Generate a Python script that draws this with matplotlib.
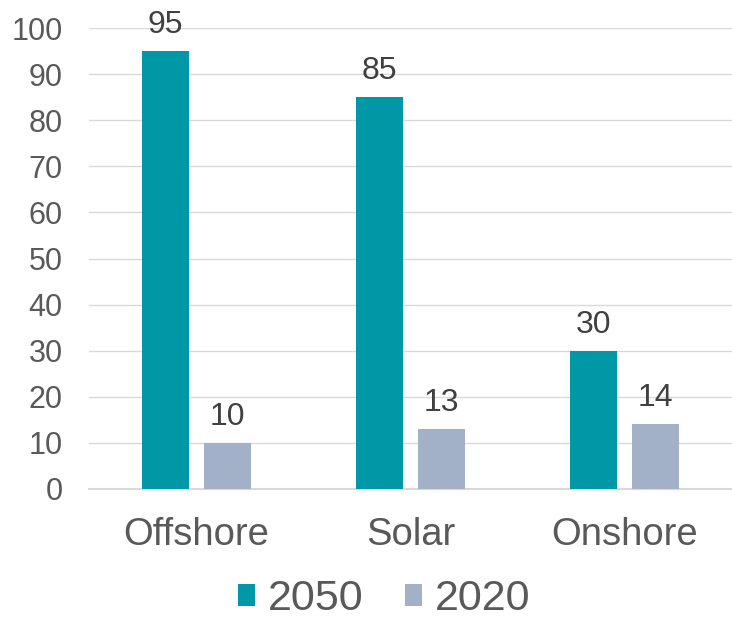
import numpy as np
import matplotlib.pyplot as plt

categories = ['Offshore', 'Solar', 'Onshore']
values_2050 = [95, 85, 30]
values_2020 = [10, 13, 14]
series_labels = ['2050', '2020']

color_2050 = '#0097A7'
color_2020 = '#A2B1C7'
text_col = '#595959'

plt.rcParams['font.family'] = ['Liberation Sans', 'DejaVu Sans']

fig = plt.figure(figsize=(7.32, 6.18), dpi=100)
ax = fig.add_axes([89 / 732, 1 - 489 / 618, 1 - 89 / 732, (489 - 28) / 618])

x = np.arange(len(categories))
w = 0.219
off = 0.145
b1 = ax.bar(x - off, values_2050, w, color=color_2050, label=series_labels[0], zorder=3)
b2 = ax.bar(x + off, values_2020, w, color=color_2020, label=series_labels[1], zorder=3)

for bars in (b1, b2):
    for rect in bars:
        h = rect.get_height()
        ax.annotate(f'{h:g}', (rect.get_x() + rect.get_width() / 2, h),
                    xytext=(0, 8), textcoords='offset points',
                    ha='center', va='bottom', fontsize=23, color='#404040',
                    clip_on=False)

ax.set_xlim(-0.5, 2.5)
ax.set_ylim(0, 100)
ax.set_yticks(np.arange(0, 101, 10))
ax.set_xticks(x)
ax.set_xticklabels(categories)
ax.yaxis.grid(True, color='#D9D9D9', linewidth=1.0, zorder=0)
ax.set_axisbelow(True)
for s in ['top', 'right', 'left']:
    ax.spines[s].set_visible(False)
ax.spines['bottom'].set_color('#D9D9D9')
ax.spines['bottom'].set_linewidth(1.5)
ax.tick_params(axis='y', length=0, pad=19, labelsize=22, labelcolor=text_col)
ax.tick_params(axis='x', length=0, pad=20, labelsize=27.5, labelcolor=text_col)

fig.legend(handles=[b1, b2], labels=series_labels, loc='center',
           bbox_to_anchor=(0.525, 0.03), ncol=2, frameon=False,
           fontsize=31, labelcolor=text_col, handlelength=0.4,
           handleheight=0.4, handletextpad=0.3, columnspacing=0.95)

fig.savefig('out.png', dpi=100)
